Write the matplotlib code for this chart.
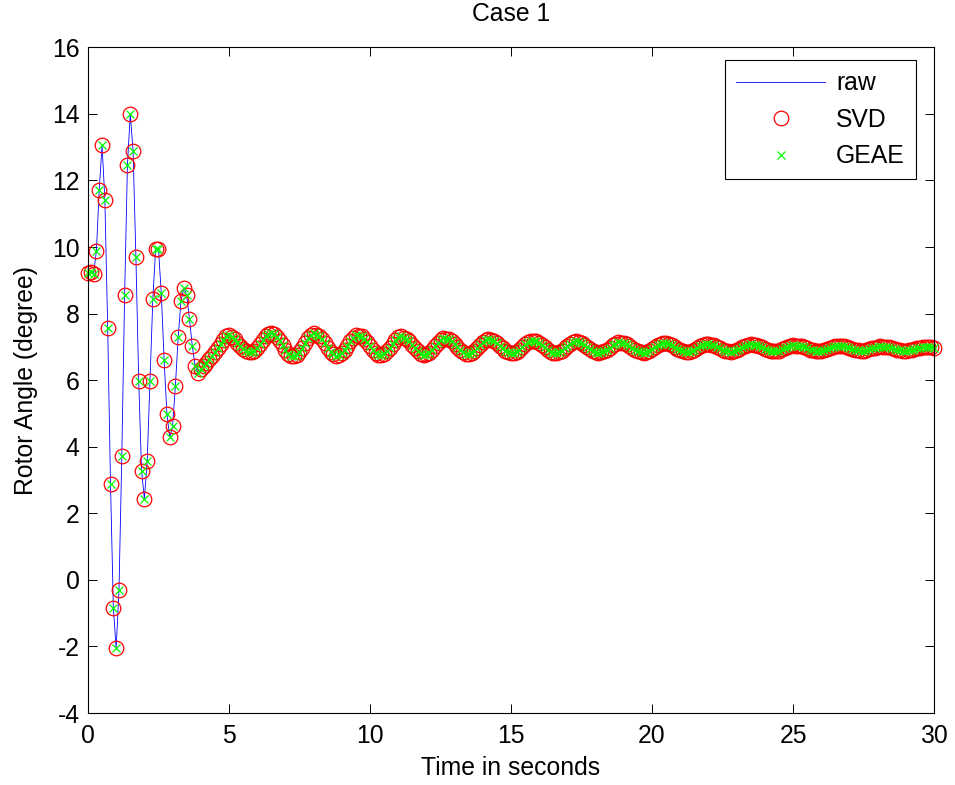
import numpy as np
import matplotlib
matplotlib.use("Agg")
import matplotlib.pyplot as plt

plt.rcParams["font.family"] = ["Liberation Sans", "DejaVu Sans"]
plt.rcParams["axes.unicode_minus"] = False

# rotor angle samples, 0.1 s apart, 0 .. 30 s
angle = [
    # 0.0 - 3.9 s: swing after the disturbance
    9.22, 9.25, 9.20, 9.89, 11.72, 13.06, 11.42, 7.56, 2.87, -0.83,
    -2.06, -0.31, 3.72, 8.56, 12.47, 14.00, 12.89, 9.70, 5.97, 3.28,
    2.44, 3.56, 5.97, 8.44, 9.94, 9.94, 8.61, 6.61, 4.98, 4.28,
    4.61, 5.83, 7.31, 8.39, 8.78, 8.56, 7.83, 7.02, 6.44, 6.22,
    # 4.0 - 6.4 s
    6.33, 6.43, 6.53, 6.63, 6.73, 6.84, 6.96, 7.09, 7.22, 7.32,
    7.35, 7.31, 7.23, 7.13, 7.03, 6.95, 6.89, 6.85, 6.84, 6.88,
    6.97, 7.09, 7.22, 7.33, 7.40,
    # 6.5 s onwards: slowly damped oscillation
    7.42, 7.39, 7.31, 7.19, 7.05, 6.92, 6.80, 6.74, 6.72, 6.77, 6.86, 6.98, 7.12, 7.26, 7.36, 7.41,
    7.37, 7.32, 7.23, 7.11, 6.98, 6.86, 6.78, 6.74, 6.76, 6.82, 6.92, 7.04, 7.17, 7.28, 7.35,
    7.34, 7.32, 7.25, 7.15, 7.04, 6.92, 6.83, 6.77, 6.76, 6.80, 6.87, 6.98, 7.09, 7.20, 7.29, 7.33,
    7.28, 7.24, 7.17, 7.07, 6.97, 6.87, 6.80, 6.77, 6.78, 6.83, 6.92, 7.02, 7.12, 7.21, 7.27,
    7.25, 7.23, 7.18, 7.10, 7.01, 6.92, 6.85, 6.80, 6.79, 6.82, 6.88, 6.96, 7.05, 7.14, 7.21, 7.25,
    7.21, 7.17, 7.12, 7.04, 6.96, 6.89, 6.84, 6.81, 6.82, 6.86, 6.92, 7.00, 7.08, 7.15, 7.19,
    7.18, 7.17, 7.12, 7.06, 6.99, 6.92, 6.86, 6.83, 6.82, 6.84, 6.89, 6.96, 7.03, 7.10, 7.15, 7.18,
    7.15, 7.12, 7.07, 7.01, 6.95, 6.89, 6.85, 6.83, 6.84, 6.87, 6.92, 6.98, 7.05, 7.10, 7.14,
    7.13, 7.12, 7.08, 7.03, 6.97, 6.91, 6.87, 6.84, 6.83, 6.85, 6.89, 6.94, 7.00, 7.06, 7.10, 7.13,
    7.11, 7.09, 7.05, 7.00, 6.95, 6.90, 6.87, 6.85, 6.86, 6.88, 6.92, 6.97, 7.03, 7.07, 7.10,
    7.08, 7.07, 7.05, 7.01, 6.96, 6.92, 6.89, 6.87, 6.86, 6.87, 6.90, 6.94, 6.99, 7.03, 7.06, 7.08,
    7.07, 7.05, 7.02, 6.99, 6.95, 6.91, 6.88, 6.87, 6.88, 6.89, 6.93, 6.97, 7.01, 7.04, 7.06,
    7.04, 7.03, 7.02, 6.99, 6.96, 6.92, 6.90, 6.88, 6.88, 6.89, 6.91, 6.94, 6.97, 7.00, 7.03, 7.04,
    7.03, 7.02, 7.00, 6.97, 6.94, 6.92, 6.90, 6.89, 6.89, 6.91, 6.93, 6.96, 6.98, 7.01, 7.02,
    7.01, 7.01, 6.99, 6.97, 6.95, 6.92, 6.90, 6.89, 6.89, 6.90, 6.91, 6.94, 6.96, 6.98, 7.00, 7.01,
    7.00, 6.99, 6.98,
]
t = np.linspace(0, 30, len(angle))
raw = np.array(angle)
svd_est = np.array(angle)   # SVD estimate sits on the raw trace
geae_est = np.array(angle)  # so does GEAE

fs = 17.8
fig = plt.figure(figsize=(9.55, 7.85), dpi=100)
ax = fig.add_axes([0.0921, 0.0917, 0.886, 0.848])

ax.plot(t, raw, color="#0000ff", lw=0.6, label="raw", clip_on=False)
ax.plot(t, svd_est, ls="none", marker="o", ms=10.5, mfc="none", mec="#ff0000",
        mew=0.9, label="SVD", clip_on=False)
ax.plot(t, geae_est, ls="none", marker="x", ms=6, mec="#00ff00", mew=0.9,
        label="GEAE", clip_on=False)

ax.set_xlim(0, 30)
ax.set_ylim(-4, 16)
ax.set_xticks(np.arange(0, 31, 5))
ax.set_yticks(np.arange(-4, 17, 2))
ax.tick_params(direction="in", length=6.2, width=0.7, top=True, right=True,
               labelsize=fs, pad=6)
ax.tick_params(axis="x", pad=8)
for s in ax.spines.values():
    s.set_linewidth(0.8)

ax.set_title("Case 1", fontsize=fs, pad=19)
ax.set_xlabel("Time in seconds", fontsize=fs, labelpad=6)
ax.set_ylabel("Rotor Angle (degree)", fontsize=fs, labelpad=10)

leg = ax.legend(loc="upper right", bbox_to_anchor=(0.9787, 0.9805), borderaxespad=0,
                fontsize=fs, fancybox=False, framealpha=1, edgecolor="black",
                handlelength=3.6, handletextpad=0.45, labelspacing=0.5, borderpad=0.45)
leg.get_frame().set_linewidth(0.8)

fig.savefig("out.png", dpi=100)
